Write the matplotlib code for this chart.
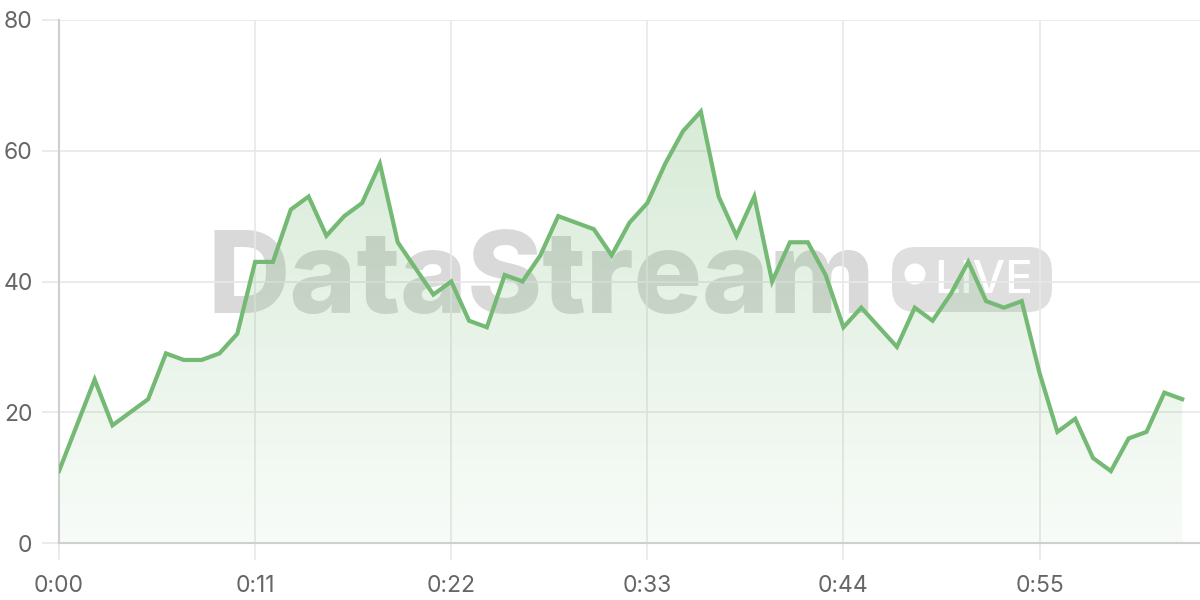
import matplotlib
matplotlib.use("Agg")
import matplotlib.pyplot as plt
import numpy as np
from matplotlib.patches import FancyBboxPatch, Circle, Polygon
from matplotlib.colors import LinearSegmentedColormap

seconds = list(range(64))
values = [11, 18, 25, 18, 20, 22, 29, 28, 28, 29, 32, 43, 43, 51, 53, 47, 50, 52, 58, 46,
          42, 38, 40, 34, 33, 41, 40, 44, 50, 49, 48, 44, 49, 52, 58, 63, 66, 53, 47, 53,
          40, 46, 46, 41, 33, 36, 33, 30, 36, 34, 38, 43, 37, 36, 37, 26, 17, 19, 13, 11,
          16, 17, 23, 22]
x_ticks = [0, 11, 22, 33, 44, 55]
x_tick_labels = ["0:00", "0:11", "0:22", "0:33", "0:44", "0:55"]
y_ticks = [0, 20, 40, 60, 80]

line_color = "#74b974"
grid_color = "#e8e8e8"
axis_color = "#cfcfcf"
text_color = "#666666"

plt.rcParams['font.family'] = ['Inter', 'DejaVu Sans']

fig = plt.figure(figsize=(12, 6), dpi=100)

# background overlay in pixel coordinates for the watermark
bg = fig.add_axes([0, 0, 1, 1], zorder=0)
bg.set_xlim(0, 1200)
bg.set_ylim(600, 0)
bg.axis("off")
bg.text(541, 313, "DataStream", ha="center", va="baseline",
        fontsize=82, fontweight="heavy", color="#d9d9d9")
bg.add_patch(FancyBboxPatch((892, 247), 160, 65,
                            boxstyle="round,pad=0,rounding_size=24",
                            facecolor="#dfdfdf", edgecolor="none"))
bg.add_patch(Circle((915, 274), 10.5, facecolor="white", edgecolor="none"))
bg.text(934, 293, "LIVE", ha="left", va="baseline", fontsize=33,
        fontweight="medium", color="white")

ax = fig.add_axes([59/1200, 1 - 543/600, (1200-59)/1200, (543-20)/600], zorder=1)
ax.set_xlim(0, 64)
ax.set_ylim(0, 80)
ax.set_facecolor("none")

# gradient fill
verts = [(seconds[0], 0)] + list(zip(seconds, values)) + [(seconds[-1], 0)]
poly = Polygon(verts, closed=True, facecolor="none", edgecolor="none")
ax.add_patch(poly)
grad = np.linspace(1, 0, 256).reshape(-1, 1)
cmap = LinearSegmentedColormap.from_list("g", [(0, (0.45, 0.72, 0.45, 0.05)), (1, (0.45, 0.72, 0.45, 0.28))])
im = ax.imshow(grad, extent=[0, 63, 0, max(values)], aspect="auto", cmap=cmap,
               origin="upper", zorder=2)
im.set_clip_path(poly)

ax.plot(seconds, values, color=line_color, lw=3, zorder=3, solid_joinstyle="miter")

ax.set_xticks(x_ticks)
ax.set_xticklabels(x_tick_labels)
ax.set_yticks(y_ticks)
ax.grid(True, color=grid_color, lw=1.2, zorder=0)
ax.set_axisbelow(True)
for s in ["top", "right"]:
    ax.spines[s].set_visible(False)
ax.spines["left"].set_color(axis_color)
ax.spines["bottom"].set_color(axis_color)
ax.spines["left"].set_linewidth(1.5)
ax.spines["bottom"].set_linewidth(1.5)
ax.tick_params(axis="both", length=12, color=grid_color, width=1.2, labelsize=16.5,
               labelcolor=text_color)
ax.tick_params(axis="y", pad=7)
ax.tick_params(axis="x", pad=11)

fig.savefig("out.png", dpi=100)
